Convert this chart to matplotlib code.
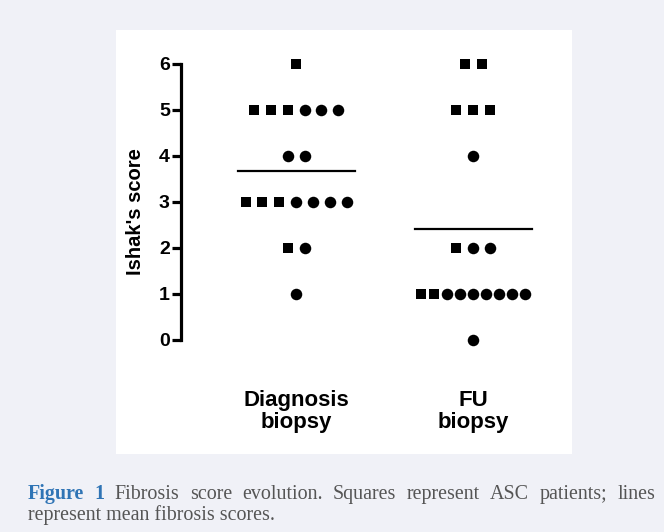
import matplotlib
matplotlib.use("Agg")
import matplotlib.pyplot as plt
from matplotlib.patches import Rectangle
import numpy as np

# Ishak scores per biopsy, split into ASC patients (squares) and others (circles)
groups = ["Diagnosis\nbiopsy", "FU\nbiopsy"]
diag_scores = [6, 5, 4, 3, 2, 1]
diag_asc = [1, 3, 0, 3, 1, 0]
diag_other = [0, 3, 2, 4, 1, 1]
fu_scores = [6, 5, 4, 2, 1, 0]
fu_asc = [2, 3, 0, 1, 2, 0]
fu_other = [0, 0, 1, 2, 7, 1]

W, H = 664, 532
fig = plt.figure(figsize=(W / 100, H / 100), dpi=100, facecolor="#f0f1f7")
plt.rcParams["font.family"] = ["Liberation Sans", "DejaVu Sans"]

# white panel behind the chart
fig.patches.append(Rectangle((116 / W, 1 - 454 / H), 456 / W, 424 / H,
                             transform=fig.transFigure, facecolor="white",
                             edgecolor="none", zorder=-5))

ax_bottom = 1 - 353.8 / H
ax_top = 1 - 50.2 / H
ax = fig.add_axes([181 / W, ax_bottom, (560 - 181) / W, ax_top - ax_bottom])
ax.set_zorder(2)
ax.set_facecolor("none")
ax.set_xlim(-0.65, 1.49)
ax.set_ylim(-0.3, 6.3)

px = 1 / 177.0  # data units per pixel along x
step = 16.8 * px
max_span = 104 * px


def draw_group(xc, scores, asc, other):
    for s, na, no in zip(scores, asc, other):
        n = na + no
        if n == 0:
            continue
        d = step if n < 2 else min(step, max_span / (n - 1))
        xs = xc + (np.arange(n) - (n - 1) / 2) * d
        ys = np.full(n, s)
        ax.plot(xs[:na], ys[:na], "s", color="black", ms=7.8, mew=0, clip_on=False)
        ax.plot(xs[na:], ys[na:], "o", color="black", ms=8.3, mew=0, clip_on=False)
    total = sum(na + no for na, no in zip(asc, other))
    mean = sum(s * (na + no) for s, na, no in zip(scores, asc, other)) / total
    ax.plot([xc - 58.5 * px, xc + 58.5 * px], [mean, mean], color="black", lw=1.6)


draw_group(0, diag_scores, diag_asc, diag_other)
draw_group(1, fu_scores, fu_asc, fu_other)

for side in ["top", "right", "bottom"]:
    ax.spines[side].set_visible(False)
ax.spines["left"].set_linewidth(2.3)
ax.spines["left"].set_bounds(0, 6)
ax.set_yticks(range(0, 7))
ax.tick_params(axis="y", length=6.5, width=2.3, pad=1.5, labelsize=14)
for lab in ax.get_yticklabels():
    lab.set_fontweight("bold")
ax.set_xticks([0, 1])
ax.set_xticklabels(groups, fontsize=16, fontweight="bold", linespacing=1.07)
ax.tick_params(axis="x", length=0, pad=26)
ax.set_ylabel("Ishak's score", fontsize=14.5, fontweight="bold")
ax.yaxis.set_label_coords(-0.095, 0.47)

# caption, first line justified
blue = "#2f74b5"
grey = "#555555"
fig.canvas.draw()
r = fig.canvas.get_renderer()
cap_font = ["Liberation Serif", "DejaVu Serif"]
words = [("Figure", blue, "bold"), ("1", blue, "bold")] + \
        [(w, grey, "normal") for w in
         "Fibrosis score evolution. Squares represent ASC patients; lines".split()]
texts = []
for w, c, fw in words:
    t = fig.text(0, 1 - 499 / H, w, color=c, fontweight=fw, fontsize=14.4,
                 family=cap_font, va="baseline", ha="left")
    texts.append(t)
widths = [t.get_window_extent(r).width for t in texts]
x0, x1 = 28, 655
gap = (x1 - x0 - sum(widths)) / (len(words) - 1)
x = x0
for t, w in zip(texts, widths):
    t.set_x(x / W)
    x += w + gap
fig.text(28 / W, 1 - 520 / H, "represent mean fibrosis scores.", color=grey,
         fontsize=14.4, family=cap_font, va="baseline", ha="left")

fig.savefig("out.png", dpi=100, facecolor=fig.get_facecolor())
